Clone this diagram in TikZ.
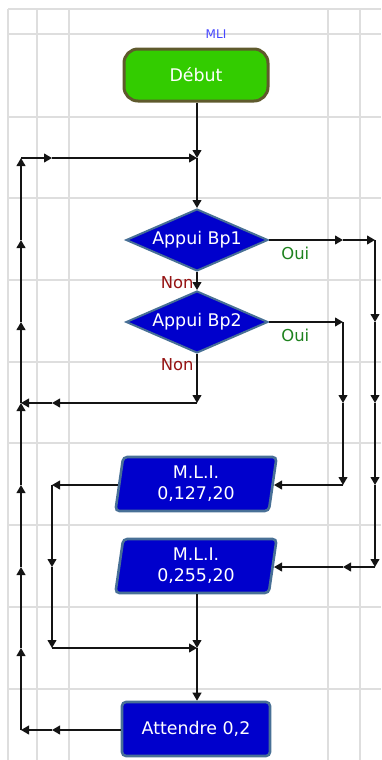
\documentclass[tikz,border=0pt]{standalone}
\usepackage{fontspec}
\setmainfont{DejaVu Sans}
\usetikzlibrary{arrows.meta,positioning,shapes.geometric}

\definecolor{startgreen}{RGB}{51,204,0}
\definecolor{startedge}{RGB}{95,90,45}
\definecolor{boxblue}{RGB}{0,0,204}
\definecolor{boxedge}{RGB}{72,112,150}
\definecolor{ouigreen}{RGB}{30,130,30}
\definecolor{nonred}{RGB}{150,20,20}
\definecolor{titleblue}{RGB}{70,70,255}
\definecolor{gridgray}{RGB}{222,222,222}
\definecolor{linegray}{RGB}{20,20,20}

\begin{document}
\begin{tikzpicture}[x=0.5pt,y=-0.5pt,>={Triangle[length=4pt,width=4.4pt]},
  font=\fontsize{8.7}{10.5}\selectfont,
  startbox/.style={draw=startedge,line width=1.5pt,fill=startgreen,text=white,
    rounded corners=7pt,minimum width=72pt,minimum height=26pt},
  testbox/.style={diamond,draw=boxedge,line width=1pt,fill=boxblue,text=white,
    inner sep=0pt,aspect=2.3,minimum width=71pt,minimum height=31pt},
  pwmbox/.style={trapezium,trapezium left angle=83,trapezium right angle=97,
    trapezium stretches=true,draw=boxedge,line width=1.3pt,fill=boxblue,
    text=white,align=center,inner ysep=1pt,rounded corners=2pt,
    minimum width=81pt,minimum height=27pt},
  waitbox/.style={rectangle,draw=boxedge,line width=1.3pt,fill=boxblue,text=white,
    rounded corners=2pt,minimum width=74pt,minimum height=27pt},
  wire/.style={draw=linegray,line width=0.8pt,->},
  chain/.style={every edge/.style={wire}},
  gridline/.style={draw=gridgray,line width=0.9pt},
  ouilbl/.style={text=ouigreen,inner sep=0pt,font=\fontsize{8.2}{10}\selectfont},
  nonlbl/.style={text=nonred,inner sep=0pt,font=\fontsize{8.2}{10}\selectfont},
  titlelbl/.style={text=titleblue,inner sep=0pt,font=\fontsize{6}{7}\selectfont}]
\useasboundingbox (0,0) rectangle (381,760);
% grille de l'editeur
\foreach \x in {8,37,69,328,360} \draw[gridline] (\x,9) -- (\x,760);
\foreach \y in {9,34,117,198,280,362,443,525,607,689} \draw[gridline] (8,\y) -- (381,\y);

\node[titlelbl] (titre) at (216,34) {MLI};
\node[startbox] (debut) at (196,75) {Début};
\node[testbox] (bp1) at (197,240) {Appui Bp1};
\node[testbox] (bp2) at (197,322) {Appui Bp2};
\node[pwmbox] (mli1) at (196,484) {M.L.I.\\0,127,20};
\node[pwmbox] (mli2) at (196,566) {M.L.I.\\0,255,20};
\node[waitbox] (att) at (196,729) {Attendre 0,2};

\node[ouilbl,below right=3.5pt and 6pt of bp1.east] (oui1) {Oui};
\node[ouilbl,below right=3.5pt and 6pt of bp2.east] (oui2) {Oui};
\node[nonlbl,below left=2pt and 1.5pt of bp1.south] (non1) {Non};
\node[nonlbl,below left=2pt and 1.5pt of bp2.south] (non2) {Non};

% points de passage
\coordinate (j0) at (197,158);
\coordinate (n1) at (197,403);  \coordinate (n2) at (52,403);
\coordinate (o1) at (343,240);  \coordinate (o2) at (375,240);
\coordinate (o3) at (375,322);  \coordinate (o4) at (375,403);
\coordinate (o5) at (375,485);  \coordinate (o6) at (375,567);
\coordinate (o7) at (343,567);
\coordinate (p1) at (343,322);  \coordinate (p2) at (343,403);
\coordinate (p3) at (343,485);
\coordinate (m1) at (52,485);   \coordinate (m2) at (52,567);
\coordinate (m3) at (52,648);   \coordinate (m4) at (197,648);
\coordinate (lb1) at (52,730);  \coordinate (lb2) at (21,730);
\coordinate (lu7) at (21,648);  \coordinate (lu6) at (21,567);
\coordinate (lu5) at (21,485);  \coordinate (lu4) at (21,403);
\coordinate (lu3) at (21,322);  \coordinate (lu2) at (21,240);
\coordinate (lu1) at (21,158);  \coordinate (lt) at (52,158);

\draw[wire] (debut.south -| j0) -- (j0);
\draw[wire] (j0) -- (bp1);
\draw[wire] (bp1) -- (bp2);
\path[chain] (bp2) edge (n1) (n1) edge (n2) (n2) edge (lu4);
\path[chain] (bp1) edge (o1) (o1) edge (o2) (o2) edge (o3) (o3) edge (o4)
  (o4) edge (o5) (o5) edge (o6) (o6) edge (o7) (o7) edge (mli2.east |- o7);
\path[chain] (bp2) edge (p1) (p1) edge (p2) (p2) edge (p3) (p3) edge (mli1.east |- p3);
\path[chain] (mli1.west |- m1) edge (m1) (m1) edge (m2) (m2) edge (m3) (m3) edge (m4);
\path[chain] (mli2.south -| m4) edge (m4) (m4) edge (att.north -| m4);
\path[chain] (att.west |- lb1) edge (lb1) (lb1) edge (lb2) (lb2) edge (lu7) (lu7) edge (lu6)
  (lu6) edge (lu5) (lu5) edge (lu4) (lu4) edge (lu3) (lu3) edge (lu2)
  (lu2) edge (lu1) (lu1) edge (lt) (lt) edge (j0);
\end{tikzpicture}
\end{document}
